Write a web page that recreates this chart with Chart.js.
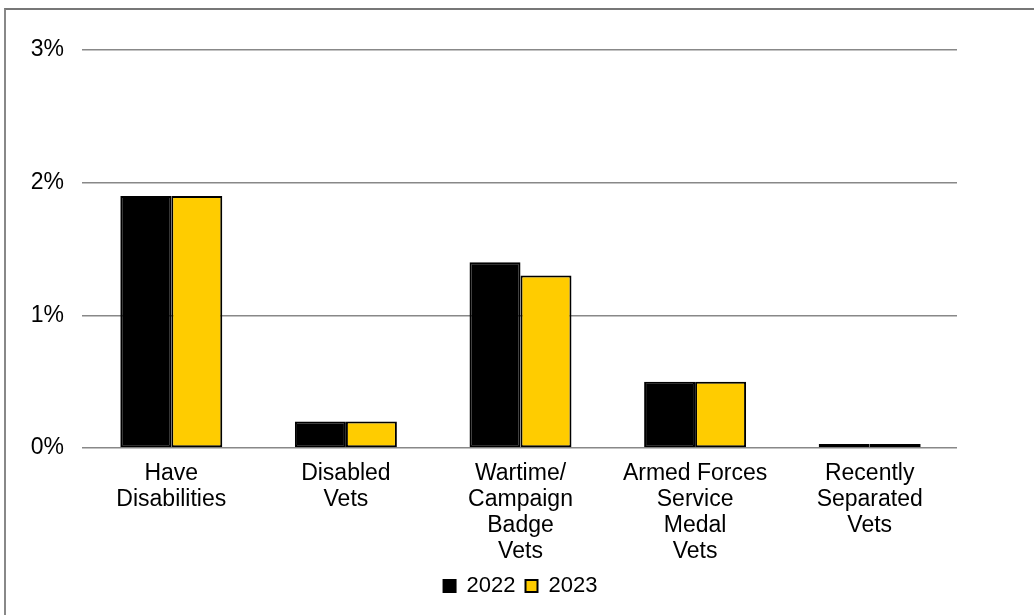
<!DOCTYPE html>
<html>
<head>
<meta charset="utf-8">
<script src="https://cdn.jsdelivr.net/npm/chart.js@4"></script>
<style>
  html, body { margin: 0; padding: 0; background: #fff; overflow: hidden; }
  #wrap { position: absolute; left: 0; top: 0; width: 1034px; height: 615px; }
  #frame { position: absolute; left: 4px; top: 8px; width: 1040px; height: 620px;
           border-left: 2px solid #888; border-top: 2px solid #777; }
</style>
</head>
<body>
<div id="frame"></div>
<div id="wrap"><canvas id="grafico"></canvas></div>
<script>
const categories = [
  ['Have', 'Disabilities'],
  ['Disabled', 'Vets'],
  ['Wartime/', 'Campaign', 'Badge', 'Vets'],
  ['Armed Forces', 'Service', 'Medal', 'Vets'],
  ['Recently', 'Separated', 'Vets']
];
const values2022 = [1.9, 0.2, 1.4, 0.5, 0.03];
const values2023 = [1.9, 0.2, 1.3, 0.5, 0.03];
const yTicks = [0, 1, 2, 3];

const ctx = document.getElementById('grafico');
const font = { family: "'Liberation Sans', Arial, sans-serif", size: 23, lineHeight: 1.13 };

new Chart(ctx, {
  type: 'bar',
  data: {
    labels: categories,
    datasets: [
      {
        label: '2022',
        data: values2022,
        backgroundColor: '#000000',
        borderColor: '#000000',
        borderWidth: 2,
        borderSkipped: false
      },
      {
        label: '2023',
        data: values2023,
        backgroundColor: '#ffcc00',
        borderColor: '#000000',
        borderWidth: 2,
        borderSkipped: false
      }
    ]
  },
  options: {
    responsive: true,
    maintainAspectRatio: false,
    animation: false,
    categoryPercentage: 0.584,
    barPercentage: 1,
    layout: { padding: { top: 50, right: 77, bottom: 8, left: 0 } },
    plugins: {
      legend: {
        position: 'bottom',
        fullSize: false,
        labels: {
          color: '#000',
          font: { family: font.family, size: 22 },
          boxWidth: 12,
          boxHeight: 12,
          padding: 10
        }
      },
      tooltip: { enabled: false }
    },
    scales: {
      x: {
        grid: { display: false },
        border: { display: false },
        ticks: { color: '#000', font: font, maxRotation: 0, autoSkip: false, padding: 5 },
        afterFit: s => { s.height = 117; }
      },
      y: {
        min: 0,
        max: 3,
        afterBuildTicks: s => { s.ticks = yTicks.map(v => ({ value: v })); },
        grid: { color: '#888888', lineWidth: 1.5, drawTicks: true, tickLength: 2 },
        border: { display: false },
        ticks: {
          color: '#000',
          font: font,
          padding: 18,
          callback: v => v + '%'
        },
        afterFit: s => { s.width = 84; }
      }
    }
  }
});
</script>
</body>
</html>
